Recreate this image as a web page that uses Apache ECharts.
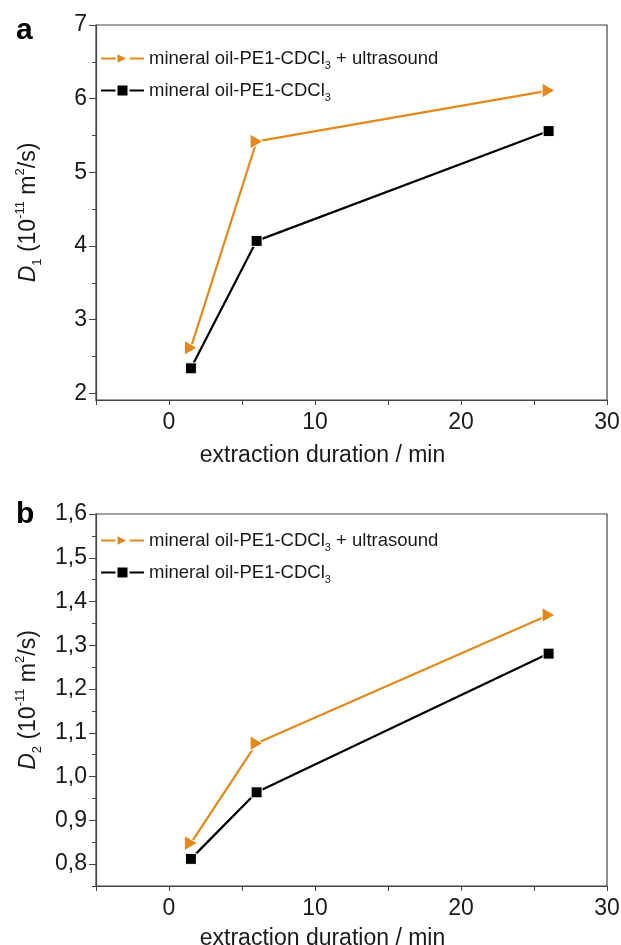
<!DOCTYPE html>
<html>
<head>
<meta charset="utf-8">
<script src="https://cdn.jsdelivr.net/npm/echarts@6/dist/echarts.min.js"></script>
<style>
html,body{margin:0;padding:0;background:#fff;}
#chart{width:621px;height:945px;}
</style>
</head>
<body>
<div id="chart"></div>
<script>
// ---- data ----
const durations = [1.5, 6, 26];
const d1Ultrasound = [2.62, 5.42, 6.11];
const d1Plain = [2.34, 4.07, 5.56];
const d2Ultrasound = [0.848, 1.076, 1.369];
const d2Plain = [0.812, 0.964, 1.281];
const xLabelValues = [0, 10, 20, 30];
const xTickValues = [-5, 0, 5, 10, 15, 20, 25, 30];
const d1LabelValues = [2, 3, 4, 5, 6, 7];
const d1MinorValues = [2.5, 3.5, 4.5, 5.5, 6.5];
const d2LabelValues = [0.8, 0.9, 1.0, 1.1, 1.2, 1.3, 1.4, 1.5, 1.6];
const d2MinorValues = [0.75, 0.85, 0.95, 1.05, 1.15, 1.25, 1.35, 1.45, 1.55];
const seriesNames = ['ultra', 'plain'];

const ORANGE = '#E3891B';
const FONT = 'Liberation Sans, Arial, sans-serif';
const AXC = '#444444';
const TXT = '#1a1a1a';

const chart = echarts.init(document.getElementById('chart'), null, {renderer: 'canvas'});

const pairs = (ys) => durations.map((x, i) => [x, ys[i]]);
const triPath = 'path://M0,0 L10,5 L0,10 Z';

const grids = [
  {left: 96, width: 511, top: 25, height: 375},
  {left: 96, width: 511, top: 514, height: 372}
];

function xAxisFor(gi, gap) {
  return {
    type: 'value', gridIndex: gi, min: -5, max: 30,
    name: 'extraction duration / min', nameLocation: 'middle', nameGap: gap,
    nameTextStyle: {fontFamily: FONT, fontSize: 23, color: TXT, padding: [0, 58, 0, 0]},
    axisLine: {show: true, onZero: false, lineStyle: {color: AXC, width: 1.2}},
    axisTick: {show: true, length: 5, inside: false, customValues: xTickValues, lineStyle: {color: AXC}},
    axisLabel: {show: true, customValues: xLabelValues, margin: 11, fontFamily: FONT, fontSize: 23, color: TXT},
    splitLine: {show: false}
  };
}

function yMain(gi, min, max, labels, fmt, nameRich) {
  return {
    type: 'value', gridIndex: gi, min: min, max: max, position: 'left',
    name: nameRich, nameLocation: 'middle', nameGap: 52, nameRotate: 90,
    nameTextStyle: {
      fontFamily: FONT, fontSize: 23, color: TXT, lineHeight: 30,
      rich: {
        it: {fontFamily: FONT, fontSize: 23, fontStyle: 'italic', color: TXT, lineHeight: 30},
        n: {fontFamily: FONT, fontSize: 23, color: TXT, lineHeight: 30},
        sub: {fontFamily: FONT, fontSize: 13, color: TXT, lineHeight: 13, verticalAlign: 'bottom'},
        sup: {fontFamily: FONT, fontSize: 13, color: TXT, lineHeight: 13, verticalAlign: 'top'}
      }
    },
    axisLine: {show: true, onZero: false, lineStyle: {color: AXC, width: 1.2}},
    axisTick: {show: true, length: 7, customValues: labels, lineStyle: {color: AXC}},
    axisLabel: {show: true, customValues: labels, margin: 9, fontFamily: FONT, fontSize: 23, color: TXT, formatter: fmt},
    splitLine: {show: false}
  };
}

function yMinor(gi, min, max, minors) {
  return {
    type: 'value', gridIndex: gi, min: min, max: max, position: 'left',
    axisLine: {show: false, onZero: false},
    axisTick: {show: true, length: 4, customValues: minors, lineStyle: {color: AXC}},
    axisLabel: {show: false},
    splitLine: {show: false}
  };
}

const nameD1 = '{it|D}{sub|1}{n| (10}{sup|-11}{n| m}{sup|2}{n|/s)}';
const nameD2 = '{it|D}{sub|2}{n| (10}{sup|-11}{n| m}{sup|2}{n|/s)}';

const legendRich = {
  t: {fontFamily: FONT, fontSize: 18.5, color: TXT, lineHeight: 26},
  sub: {fontFamily: FONT, fontSize: 11, color: TXT, lineHeight: 11, verticalAlign: 'bottom'}
};
const legendFmt = (name) => name === 'ultra'
  ? '{t|mineral oil-PE1-CDCl}{sub|3}{t| + ultrasound}'
  : '{t|mineral oil-PE1-CDCl}{sub|3}';

function legendAt(name, top) {
  return {
    data: [name], left: 100, top: top, padding: 0, itemGap: 0,
    itemWidth: 43, itemHeight: 15, selectedMode: false,
    formatter: legendFmt,
    textStyle: {rich: legendRich, padding: [0, 0, 0, 0]}
  };
}

function seriesFor(gi, ys, name, isUltra) {
  return {
    type: 'line', name: name, xAxisIndex: gi, yAxisIndex: gi * 2,
    data: pairs(ys),
    symbol: isUltra ? triPath : 'rect',
    symbolSize: isUltra ? [13, 15] : 11,
    showAllSymbol: true,
    lineStyle: {color: isUltra ? ORANGE : '#000', width: 2.2},
    itemStyle: {color: isUltra ? ORANGE : '#000', borderColor: '#fff', borderWidth: 1},
    emphasis: {disabled: true},
    animation: false,
    z: isUltra ? 3 : 2
  };
}

const option = {
  animation: false,
  backgroundColor: '#fff',
  grid: grids.map(g => Object.assign({
    show: true, borderColor: AXC, borderWidth: 1.2, backgroundColor: 'transparent',
    containLabel: false, outerBoundsMode: 'none'
  }, g)),
  xAxis: [xAxisFor(0, 44), xAxisFor(1, 41)],
  yAxis: [
    yMain(0, 1.91, 7, d1LabelValues, v => String(v), nameD1),
    yMinor(0, 1.91, 7, d1MinorValues),
    yMain(1, 0.75, 1.6, d2LabelValues, v => v.toFixed(1).replace('.', ','), nameD2),
    yMinor(1, 0.75, 1.6, d2MinorValues)
  ],
  legend: [
    legendAt('ultra', 49),
    legendAt('plain', 81),
    legendAt('ultra', 531),
    legendAt('plain', 563)
  ],
  graphic: [
    {type: 'text', left: 16, top: 16, style: {text: 'a', font: 'bold 30px ' + FONT, fill: '#000'}},
    {type: 'text', left: 16, top: 500, style: {text: 'b', font: 'bold 30px ' + FONT, fill: '#000'}}
  ],
  series: [
    seriesFor(0, d1Ultrasound, seriesNames[0], true),
    seriesFor(0, d1Plain, seriesNames[1], false),
    seriesFor(1, d2Ultrasound, seriesNames[0], true),
    seriesFor(1, d2Plain, seriesNames[1], false)
  ]
};
chart.setOption(option);
</script>
</body>
</html>
